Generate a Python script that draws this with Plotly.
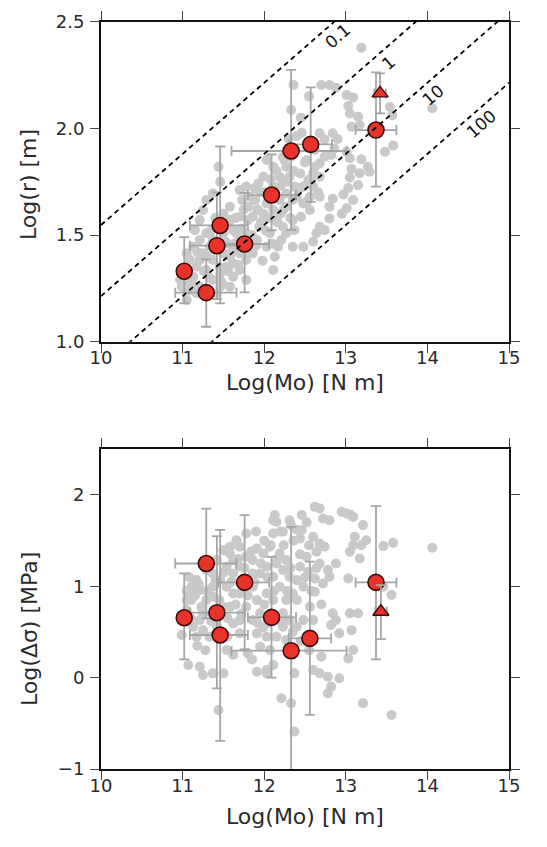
import math
import plotly.graph_objects as go

# ---------------- data ----------------
# red events (circles): log moment, log radius, log stress drop
red_mo = [11.02, 11.29, 11.46, 11.42, 11.76, 12.09, 12.33, 12.57, 13.37]
red_r = [1.33, 1.23, 1.545, 1.45, 1.458, 1.6875, 1.894, 1.925, 1.992]
red_r_err_plus = [0.16, 0.156, 0.37, 0.25, 0.24, 0.19, 0.38, 0.267, 0.27]
red_r_err_minus = [0.15, 0.16, 0.365, 0.25, 0.227, 0.165, 0.37, 0.27, 0.265]
red_mo_err_plus = [0.0, 0.37, 0.34, 0.34, 0.30, 0.30, 0.68, 0.26, 0.25]
red_mo_err_minus = [0.0, 0.38, 0.37, 0.33, 0.32, 0.29, 0.73, 0.26, 0.25]
red_mo_b = [11.02, 11.29, 11.46, 11.42, 11.76, 12.09, 12.33, 12.56, 13.37]
red_ds = [0.656, 1.25, 0.467, 0.711, 1.043, 0.66, 0.295, 0.43, 1.043]
red_ds_err_plus = [0.485, 0.60, 1.15, 0.838, 0.736, 0.663, 1.356, 0.84, 0.834]
red_ds_err_minus = [0.456, 0.60, 1.16, 0.828, 0.733, 0.66, 1.36, 0.838, 0.843]

# triangle event
tri_mo = [13.42]
tri_r = [2.164]
tri_r_err = [0.094]
tri_mo_err = [0.07]
tri_mo_b = [13.43]
tri_ds = [0.722]
tri_ds_err_plus = [0.29]
tri_ds_err_minus = [0.30]

# gray catalogue events, top panel (log Mo, log r)
gray_top_mo = [13.19, 12.36, 12.70, 12.80, 12.88, 13.01, 13.09, 14.06, 13.54, 13.57,
               12.33, 13.05, 13.03, 13.15, 13.07, 13.17, 12.84, 12.74, 12.68, 12.46,
               12.40, 13.58, 13.48, 13.01, 13.05, 13.19, 13.27, 13.29, 13.17, 13.07,
               13.05, 13.15, 13.03, 12.97, 12.84, 12.80, 13.09, 13.01, 12.95, 12.80,
               12.68, 12.64, 12.60, 12.74, 12.48, 12.35, 12.13, 12.11, 12.86, 12.82,
               12.74, 12.68, 12.62, 12.60, 12.68, 12.54, 12.44, 12.48, 12.60, 12.68,
               12.56, 12.48, 12.56, 12.45, 12.35, 12.37, 12.27, 12.21, 12.17, 12.23,
               12.15, 12.27, 12.35, 12.27, 12.37, 12.31, 12.27, 12.19, 12.11, 11.99,
               11.93, 12.03, 12.11, 12.23, 12.33, 12.03, 11.99, 12.11, 12.19, 11.89,
               11.81, 11.73, 11.86, 11.94, 12.07, 12.03, 11.91, 11.86, 11.78, 11.70,
               11.62, 11.62, 11.66, 11.58, 11.70, 11.50, 11.58, 11.70, 11.78, 11.44,
               11.46, 11.37, 11.29, 11.25, 11.21, 11.15, 11.29, 11.37, 11.21, 11.13,
               11.25, 11.37, 11.50, 11.58, 11.54, 11.46, 11.62, 11.70, 11.78, 11.58,
               11.46, 11.37, 11.29, 11.17, 11.09, 11.05, 11.13, 11.05, 10.99, 10.97,
               11.05, 11.17, 11.21, 11.42, 11.13, 10.99, 11.21, 11.33, 11.50, 11.62,
               11.78, 11.81, 11.54, 11.70, 11.95, 12.00, 12.40, 12.52, 12.90, 12.20,
               11.30, 11.35, 11.40, 11.45, 11.52, 11.55, 11.60, 11.65, 11.68, 11.72,
               11.75, 11.80, 11.83, 11.85, 11.88, 11.92, 11.96, 12.00, 12.05, 12.08,
               12.12, 12.16, 12.20, 12.24, 12.28, 12.32, 12.36, 12.40, 12.44, 12.50,
               12.53, 12.58, 12.62, 12.66, 11.26, 11.33, 11.40, 11.48, 11.56, 11.64,
               11.12, 11.18, 11.08, 11.90, 11.98, 12.10, 12.02, 11.82, 12.30, 12.45,
               12.55, 12.25, 12.15]
gray_top_r = [2.378, 2.203, 2.203, 2.203, 2.19, 2.156, 2.145, 2.094, 2.10, 2.06,
              2.086, 2.07, 2.105, 2.055, 2.008, 2.016, 1.977, 1.948, 1.977, 1.98,
              1.964, 1.92, 1.89, 1.89, 1.86, 1.855, 1.82, 1.797, 1.79, 1.81,
              1.77, 1.734, 1.72, 1.69, 1.67, 1.633, 1.664, 1.625, 1.60, 1.578,
              1.539, 1.508, 1.469, 1.523, 1.445, 1.445, 1.398, 1.336, 1.906, 1.875,
              1.867, 1.836, 1.82, 1.789, 1.773, 1.758, 1.789, 1.727, 1.727, 1.68,
              1.68, 1.648, 1.617, 1.586, 1.57, 1.523, 1.508, 1.477, 1.445, 1.539,
              1.57, 1.633, 1.664, 1.695, 1.727, 1.773, 1.82, 1.773, 1.727, 1.773,
              1.742, 1.852, 1.82, 1.867, 1.867, 1.648, 1.60, 1.617, 1.664, 1.664,
              1.633, 1.664, 1.586, 1.539, 1.508, 1.445, 1.477, 1.414, 1.383, 1.414,
              1.367, 1.445, 1.508, 1.57, 1.586, 1.60, 1.633, 1.711, 1.727, 1.82,
              1.75, 1.695, 1.664, 1.617, 1.57, 1.523, 1.508, 1.477, 1.477, 1.445,
              1.414, 1.383, 1.414, 1.40, 1.352, 1.32, 1.305, 1.336, 1.289, 1.258,
              1.258, 1.289, 1.336, 1.352, 1.383, 1.414, 1.305, 1.273, 1.258, 1.289,
              1.195, 1.227, 1.258, 1.227, 1.266, 1.30, 1.383, 1.445, 1.508, 1.523,
              1.508, 1.461, 1.461, 1.477, 1.70, 1.58, 1.72, 1.85, 1.95, 1.60,
              1.40, 1.52, 1.58, 1.35, 1.47, 1.55, 1.42, 1.58, 1.36, 1.53,
              1.62, 1.57, 1.68, 1.50, 1.72, 1.62, 1.56, 1.70, 1.58, 1.76,
              1.68, 1.56, 1.73, 1.62, 1.75, 1.58, 1.80, 1.68, 1.72, 1.84,
              1.66, 1.76, 1.90, 1.70, 1.33, 1.30, 1.43, 1.28, 1.33, 1.46,
              1.30, 1.42, 1.24, 1.45, 1.38, 1.46, 1.52, 1.42, 1.95, 2.05,
              2.15, 1.85, 1.80]

# gray catalogue events, bottom panel (log Mo, log stress drop)
gray_bot_mo = [14.06, 13.56, 13.21, 13.58, 13.46, 13.25, 13.19, 13.11, 13.09, 13.05,
               13.17, 13.03, 13.56, 13.46, 13.21, 13.01, 12.95, 13.06, 13.09, 12.80,
               12.72, 12.62, 12.68, 12.46, 12.31, 12.33, 12.13, 12.15, 12.11, 12.23,
               12.46, 12.44, 12.60, 12.68, 12.74, 12.64, 12.52, 12.68, 12.78, 12.88,
               12.80, 12.72, 12.62, 12.54, 12.62, 12.84, 12.88, 12.82, 12.92, 13.05,
               13.15, 13.07, 13.03, 13.09, 12.70, 12.60, 12.68, 12.78, 12.92, 12.82,
               12.78, 12.33, 12.21, 12.37, 12.37, 11.91, 12.03, 12.11, 12.03, 11.44,
               11.50, 11.37, 11.25, 11.21, 11.07, 10.99, 11.05, 11.05, 11.11, 11.11,
               11.17, 11.21, 11.23, 11.21, 11.25, 11.33, 11.42, 11.37, 11.46, 11.54,
               11.58, 11.58, 11.62, 11.70, 11.62, 11.54, 11.62, 11.58, 11.62, 11.54,
               11.70, 11.80, 11.70, 11.78, 11.91, 11.95, 11.86, 11.91, 11.78, 11.91,
               11.86, 11.99, 12.03, 11.95, 12.07, 12.19, 12.15, 12.27, 12.23, 12.11,
               12.19, 12.31, 12.44, 12.40, 12.48, 12.35, 12.27, 12.11, 12.03, 12.23,
               12.31, 12.40, 12.48, 12.56, 12.60, 12.23, 12.15, 12.03, 11.95, 12.07,
               12.27, 11.37, 11.29, 11.42, 11.50, 11.37, 11.29, 11.13, 11.17, 11.46,
               11.50, 11.70, 11.86, 11.74, 11.86, 11.78, 11.70, 11.66, 12.11, 11.99,
               11.15, 11.20, 11.25, 11.30, 11.35, 11.40, 11.45, 11.50, 11.55, 11.60,
               11.65, 11.68, 11.72, 11.76, 11.80, 11.84, 11.88, 11.92, 11.96, 12.00,
               12.04, 12.08, 12.12, 12.16, 12.20, 12.24, 12.28, 12.32, 12.36, 12.40,
               12.44, 12.50, 12.55, 12.58, 12.64, 12.70, 11.10, 11.18, 11.28, 11.55,
               11.62, 11.85, 12.05, 12.35, 12.45, 12.55, 12.20, 12.40, 12.52, 11.90,
               12.00, 11.08, 11.05]
gray_bot_ds = [1.422, -0.408, -0.281, 1.476, 1.44, 1.505, 1.45, 1.542, 1.45, 1.378,
               1.305, 1.086, 0.904, 0.995, 1.67, 1.797, 1.816, 1.78, 1.76, 1.724,
               1.743, 1.87, 1.852, 1.78, 1.724, 1.67, 1.78, 1.706, 1.579, 1.597,
               1.615, 1.524, 1.542, 1.469, 1.433, 1.378, 1.323, 1.25, 1.178, 1.25,
               1.105, 1.032, 1.086, 1.159, 0.94, 0.704, 0.63, 0.576, 0.485, 0.704,
               0.704, 0.52, 0.211, 0.303, 0.23, 0.084, 0.047, 0.011, -0.007, -0.098,
               -0.171, -0.281, -0.226, -0.59, 0.047, 0.066, 0.084, 0.139, 0.047, -0.354,
               0.047, 0.047, 0.029, 0.12, 0.139, 0.467, 0.85, 0.74, 0.995, 0.85,
               1.068, 0.959, 0.777, 0.63, 0.52, 0.448, 0.558, 0.886, 1.068, 1.214,
               1.36, 1.433, 1.287, 1.214, 1.141, 0.995, 0.922, 0.777, 0.594, 0.303,
               0.485, 0.266, 0.63, 0.777, 0.85, 0.704, 0.63, 0.485, 1.579, 1.414,
               1.287, 1.36, 1.214, 1.141, 1.433, 1.36, 1.25, 1.287, 1.178, 1.105,
               0.995, 1.105, 1.214, 1.068, 0.995, 0.922, 0.85, 0.85, 0.922, 0.704,
               0.63, 0.558, 0.63, 0.777, 0.63, 0.558, 0.448, 0.448, 0.339, 0.303,
               0.412, 1.141, 1.178, 1.287, 1.396, 0.995, 0.85, 0.558, 0.448, 0.485,
               0.777, 0.922, 0.995, 1.068, 1.141, 1.323, 1.433, 1.505, 1.724, 0.55,
               0.90, 1.02, 0.70, 0.95, 0.62, 1.05, 0.85, 1.15, 0.65, 1.05,
               0.80, 1.30, 0.70, 1.20, 0.90, 1.38, 1.05, 0.60, 1.25, 0.80,
               1.10, 1.45, 0.95, 1.30, 0.62, 1.45, 0.95, 1.20, 1.50, 0.85,
               1.35, 1.10, 1.45, 0.95, 1.20, 0.80, 0.65, 0.35, 0.30, 0.45,
               0.25, 0.20, 0.60, 0.50, 0.40, 0.30, 1.60, 1.62, 1.70, 1.60,
               1.50, 1.10, 0.95]

# constant stress-drop reference lines (MPa)
stress_drops = [0.1, 1, 10, 100]
stress_labels = ["0.1", "1", "10", "100"]
label_mo = [12.9, 13.52, 14.07, 14.66]
mo_span = [10, 15]

# axis ticks
x_ticks = [10, 11, 12, 13, 14, 15]
top_y_ticks = [1.0, 1.5, 2.0, 2.5]
bot_y_ticks = [-1, 0, 1, 2]

# ---------------- figure ----------------
# page has an 8px body margin; size figure so that it fits the 547x847 window
OFF = 8
W, H = 547 - 2 * OFF, 847 - 2 * OFF
FONT = "DejaVu Sans, Liberation Sans, Arial, sans-serif"
RED = "#e8332a"
EDGE = "#3a0c0c"
GRAY = "#c9c9c9"
ERR = "#a6a6a6"


def px_x(p):
    return (p - OFF) / W


def px_y(p):
    return 1 - (p - OFF) / H


def radius_line(mo, ds_mpa):
    # circular crack: ds = 7/16 * Mo / r^3  (ds in Pa)
    return (mo - math.log10(ds_mpa * 1e6) + math.log10(7.0 / 16.0)) / 3.0


fig = go.Figure()

# ---- top panel ----
fig.add_trace(go.Scatter(
    x=gray_top_mo, y=gray_top_r, mode="markers",
    marker=dict(size=10, color=GRAY), xaxis="x", yaxis="y",
    showlegend=False, hoverinfo="skip"))

fig.add_trace(go.Scatter(
    x=red_mo, y=red_r, mode="markers",
    marker=dict(size=16, color=RED, line=dict(color=EDGE, width=1.6)),
    error_y=dict(type="data", symmetric=False, array=red_r_err_plus,
                 arrayminus=red_r_err_minus, color=ERR, thickness=1.8, width=5),
    error_x=dict(type="data", symmetric=False, array=red_mo_err_plus,
                 arrayminus=red_mo_err_minus, color=ERR, thickness=1.8, width=5),
    xaxis="x", yaxis="y", showlegend=False))

fig.add_trace(go.Scatter(
    x=tri_mo, y=tri_r, mode="markers",
    marker=dict(size=14, symbol="triangle-up", color=RED, line=dict(color=EDGE, width=1.4)),
    error_y=dict(type="data", array=tri_r_err, color=ERR, thickness=1.8, width=5),
    error_x=dict(type="data", array=tri_mo_err, color=ERR, thickness=1.8, width=5),
    xaxis="x", yaxis="y", showlegend=False))

for ds in stress_drops:
    fig.add_trace(go.Scatter(
        x=mo_span, y=[radius_line(m, ds) for m in mo_span], mode="lines",
        line=dict(color="black", width=1.8, dash="5px,4px"),
        xaxis="x", yaxis="y", showlegend=False, hoverinfo="skip"))

# ---- bottom panel ----
fig.add_trace(go.Scatter(
    x=gray_bot_mo, y=gray_bot_ds, mode="markers",
    marker=dict(size=10, color=GRAY), xaxis="x2", yaxis="y2",
    showlegend=False, hoverinfo="skip"))

fig.add_trace(go.Scatter(
    x=red_mo_b, y=red_ds, mode="markers",
    marker=dict(size=16, color=RED, line=dict(color=EDGE, width=1.6)),
    error_y=dict(type="data", symmetric=False, array=red_ds_err_plus,
                 arrayminus=red_ds_err_minus, color=ERR, thickness=1.8, width=5),
    error_x=dict(type="data", symmetric=False, array=red_mo_err_plus,
                 arrayminus=red_mo_err_minus, color=ERR, thickness=1.8, width=5),
    xaxis="x2", yaxis="y2", showlegend=False))

fig.add_trace(go.Scatter(
    x=tri_mo_b, y=tri_ds, mode="markers",
    marker=dict(size=14, symbol="triangle-up", color=RED, line=dict(color=EDGE, width=1.4)),
    error_y=dict(type="data", symmetric=False, array=tri_ds_err_plus,
                 arrayminus=tri_ds_err_minus, color=ERR, thickness=1.8, width=5),
    error_x=dict(type="data", array=tri_mo_err, color=ERR, thickness=1.8, width=5),
    xaxis="x2", yaxis="y2", showlegend=False))

# ---- axes ----
x_dom = [px_x(101), px_x(509)]
top_dom = [px_y(341.7), px_y(21.7)]
bot_dom = [px_y(769), px_y(449.3)]

axis_common = dict(
    showline=True, linecolor="#111", linewidth=2, mirror="allticks",
    ticks="outside", ticklen=9, tickwidth=1.3, tickcolor="#444",
    showgrid=False, zeroline=False, automargin=False,
    tickfont=dict(family=FONT, size=18, color="#2a2a2a"),
)

fig.update_layout(
    template="none",
    width=W, height=H,
    margin=dict(l=0, r=0, t=0, b=0, autoexpand=False),
    paper_bgcolor="white", plot_bgcolor="white",
    font=dict(family=FONT, color="#2a2a2a"),
    xaxis=dict(domain=x_dom, anchor="y", range=[10, 15], tickvals=x_ticks,
               ticklabelstandoff=-10, **axis_common),
    yaxis=dict(domain=top_dom, anchor="x", range=[1.0, 2.5], tickvals=top_y_ticks,
               tickformat=".1f", ticklabelstandoff=2, **axis_common),
    xaxis2=dict(domain=x_dom, anchor="y2", range=[10, 15], tickvals=x_ticks,
                ticklabelstandoff=-10, **axis_common),
    yaxis2=dict(domain=bot_dom, anchor="x2", range=[-1, 2.5], tickvals=bot_y_ticks,
                ticklabelstandoff=2, **axis_common),
)

annotations = []
# stress drop labels
for ds, lab, m in zip(stress_drops, stress_labels, label_mo):
    annotations.append(dict(
        x=m, y=radius_line(m, ds) - 0.08, xref="x", yref="y", text=lab,
        xanchor="center", yanchor="middle",
        showarrow=False, textangle=-41, font=dict(family=FONT, size=17, color="#111")))

title_font = dict(family=FONT, size=22, color="#2a2a2a")
title_common = dict(xref="paper", yref="paper", showarrow=False,
                    xanchor="center", yanchor="middle", font=title_font)
annotations += [
    dict(x=px_x(28), y=px_y(185), text="Log(r) [m]", textangle=-90, **title_common),
    dict(x=px_x(305), y=px_y(382), text="Log(Mo) [N m]", **title_common),
    dict(x=px_x(29), y=px_y(629), text="Log(Δσ) [MPa]", textangle=-90, **title_common),
    dict(x=px_x(305), y=px_y(816), text="Log(Mo) [N m]", **title_common),
]
fig.update_layout(annotations=annotations)

fig.write_html("out.html")
